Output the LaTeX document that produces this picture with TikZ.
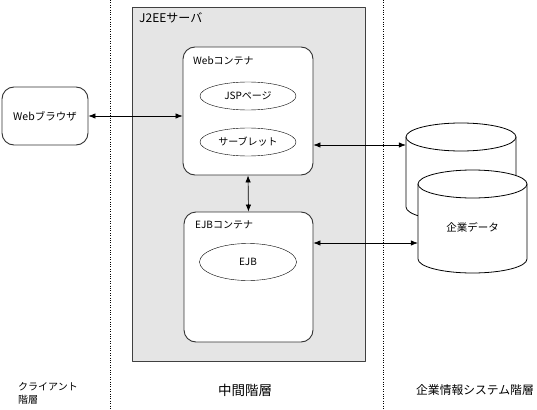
\documentclass[tikz,border=0pt]{standalone}
\usepackage{fontspec}
\setmainfont{Noto Sans CJK JP}
\usetikzlibrary{arrows.meta,shapes.geometric}
\tikzset{
  layer/.style={draw=black!75, fill=black!10, line width=0.8pt, inner sep=0pt},
  box/.style={draw=black!80, fill=white, rounded corners=12pt, line width=0.9pt, inner sep=0pt},
  bean/.style={draw, ellipse, fill=white, inner sep=0pt, minimum width=96pt, minimum height=28pt, font=\fontsize{10}{11}\selectfont},
  tag/.style={anchor=west, inner sep=0pt, font=\fontsize{10}{11}\selectfont},
  tier/.style={inner sep=0pt, font=\fontsize{9.5}{13}\selectfont},
  biarrow/.style={<->, line width=0.7pt},
  db/.style={draw, fill=white, line width=0.8pt},
}
\newcommand{\dbdrum}[5]{% left, top, right, bottom, radius
  \filldraw[db] (#1,#2) -- (#1,#4) arc[start angle=180, end angle=0, x radius={(#3-#1)/2}, y radius=#5] -- (#3,#2) -- cycle;
  \filldraw[db] ({(#1+#3)/2},#2) ellipse[x radius={(#3-#1)/2}, y radius=#5];
}
\begin{document}
\begin{tikzpicture}[x=1pt, y=-1pt, line join=round, >={Latex[length=7pt,width=5.5pt]}]
  \useasboundingbox (0,0) rectangle (537,409);
  % tier borders
  \draw[dotted] (110,0) -- (110,409);
  \draw[dotted] (383,0) -- (383,409);
  % J2EE server
  \node[layer, minimum width=233pt, minimum height=354pt, anchor=north west] (j2ee) at (132,7) {};
  \node[tag, font=\fontsize{12}{13}\selectfont] at (139,18) {J2EEサーバ};
  % containers
  \node[box, minimum width=130pt, minimum height=128pt] (webc) at (248,111) {};
  \node[tag] at (193,61) {Webコンテナ};
  \node[bean] (jsp) at (248,96) {JSPページ};
  \node[bean] (servlet) at (248,142) {サーブレット};
  \node[box, minimum width=129pt, minimum height=130pt] (ejbc) at (248.5,277) {};
  \node[tag] at (195,225) {EJBコンテナ};
  \node[bean, minimum width=97pt, minimum height=37pt] (ejb) at (248,262) {EJB};
  % client
  \node[box, minimum width=86pt, minimum height=58pt, font=\fontsize{10.5}{12}\selectfont] (browser) at (45,116) {Webブラウザ};
  % enterprise data
  \dbdrum{406}{137}{516}{207}{14}
  \node[minimum width=110pt, minimum height=70pt, inner sep=0pt] (dbback) at (461,172) {};
  \dbdrum{418}{184}{527}{259}{14}
  \node[minimum width=109pt, minimum height=75pt, inner sep=0pt, font=\fontsize{10.5}{12}\selectfont] (dbfront) at (472.5,227) {企業データ};
  % connectors
  \draw[biarrow] (browser.east) -- (browser.east -| webc.west);
  \draw[biarrow] (webc.south) -- (ejbc.north);
  \draw[biarrow] ([yshift=-34]webc.east) -- ([yshift=-34]webc.east -| dbback.west);
  \draw[biarrow] ([yshift=34]ejbc.east) -- ([yshift=34]ejbc.east -| dbfront.west);
  % tier names
  \node[tier, font=\fontsize{10}{13}\selectfont, align=left, anchor=north west] (client) at (18,382) {クライアント\\階層};
  \node[tier, font=\fontsize{13.5}{15}\selectfont] (middle) at (245,390) {中間階層};
  \node[tier, font=\fontsize{11.8}{13}\selectfont] (eis) at (475,390) {企業情報システム階層};
\end{tikzpicture}
\end{document}
